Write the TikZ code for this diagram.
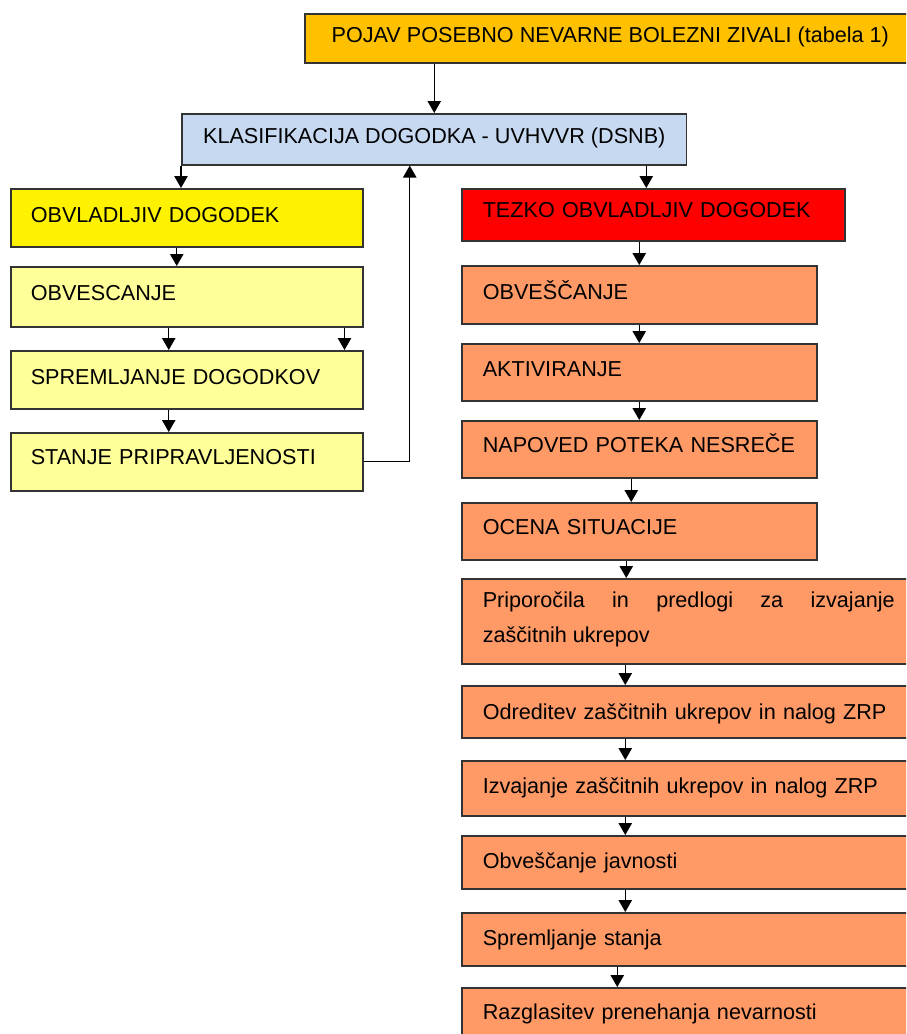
\documentclass[tikz,border=0pt]{standalone}
\usepackage{fontspec}
\setmainfont{Liberation Sans}
\usetikzlibrary{arrows.meta,calc}

\begin{document}
\begin{tikzpicture}[
    x=0.02cm, y=-0.02cm,
    font=\fontsize{12.3}{19.8}\selectfont,
    box/.style={draw=black!80,line width=0.9pt,anchor=north west,
        inner ysep=0pt,minimum height=0pt},
    topbox/.style={box,inner xsep=0pt,text height=0.58cm,text depth=0.4cm},
    lbox/.style={box,fill=lyellow,text width=6.24cm,inner xsep=0.4cm,
        align=left,text height=0.68cm,text depth=0.48cm},
    rbox/.style={box,fill=salmon,text width=6.26cm,inner xsep=0.42cm,
        align=left,text height=0.66cm,text depth=0.48cm},
    wide/.style={text width=8.24cm},
    arr/.style={-{Triangle[length=6.8pt,width=7.6pt]},line width=0.6pt}
]
\definecolor{amber}{HTML}{FFC000}
\definecolor{lblue}{HTML}{C6D9F1}
\definecolor{lyellow}{HTML}{FFFF99}
\definecolor{salmon}{HTML}{FF9966}
\useasboundingbox (0,0) rectangle (906,1034);
\clip (0,0) rectangle (906,1034);

% top of the chart
\node[topbox,fill=amber,minimum width=12.22cm] (pojav) at (304,13)
    {POJAV POSEBNO NEVARNE BOLEZNI ZIVALI (tabela 1)};
\node[topbox,fill=lblue,minimum width=10.1cm,text height=0.6cm,text depth=0.42cm]
    (klas) at (181,113) {KLASIFIKACIJA DOGODKA - UVHVVR (DSNB)};

% left branch
\node[lbox,fill=yellow] (obvl) at (10,188) {OBVLADLJIV DOGODEK};
\node[lbox,text depth=0.52cm] (obvesc) at (10,266) {OBVESCANJE};
\node[lbox] (spreml) at (10,350) {SPREMLJANJE DOGODKOV};
\node[lbox,text height=0.64cm,text depth=0.52cm] (stanje) at (10,432)
    {STANJE PRIPRAVLJENOSTI};

% right branch
\node[rbox,fill=red,text width=6.82cm,text height=0.58cm,text depth=0.46cm]
    (tezko) at (461,188) {TEZKO OBVLADLJIV DOGODEK};
\node[rbox,text height=0.68cm] (robv) at (461,265) {OBVEŠČANJE};
\node[rbox] (akt) at (461,343) {AKTIVIRANJE};
\node[rbox,text height=0.64cm,text depth=0.5cm] (nap) at (461,420)
    {NAPOVED POTEKA NESREČE};
\node[rbox,text height=0.64cm,text depth=0.5cm] (ocena) at (461,502)
    {OCENA SITUACIJE};
\node[rbox,wide,align=justify,text height=0.58cm,text depth=1.12cm] (prip)
    at (461,578) {Priporočila in predlogi za izvajanje\linebreak zaščitnih ukrepov};
\node[rbox,wide,text height=0.68cm,text depth=0.36cm] (odr) at (461,685)
    {Odreditev zaščitnih ukrepov in nalog ZRP};
\node[rbox,wide,text depth=0.44cm] (izv) at (461,760)
    {Izvajanje zaščitnih ukrepov in nalog ZRP};
\node[rbox,wide,text depth=0.4cm] (obvj) at (461,835) {Obveščanje javnosti};
\node[rbox,wide,text depth=0.4cm] (sprj) at (461,912) {Spremljanje stanja};
\node[rbox,wide,text height=0.64cm,text depth=0.7cm] (razgl) at (461,987)
    {Razglasitev prenehanja nevarnosti};

% connectors
\draw[arr] (klas.north |- pojav.south) -- (klas.north);
\draw[arr] (klas.south west) -- (klas.south west |- obvl.north);
\draw[arr] ($(klas.south -| tezko.north)+(-7,0)$) -- ($(tezko.north)+(-7,0)$);
\draw[arr] ($(obvl.south)+(-10,0)$) -- ($(obvesc.north)+(-10,0)$);
\draw[arr] ($(obvesc.south)+(-18,0)$) -- ($(spreml.north)+(-18,0)$);
\draw[arr] ($(obvesc.south east)+(-19,0)$) -- ($(spreml.north east)+(-19,0)$);
\draw[arr] ($(spreml.south)+(-18,0)$) -- ($(stanje.north)+(-18,0)$);
\draw[arr] (stanje.east) -| ($(klas.south)+(-24.5,0)$);
\draw[arr] (tezko.south -| robv.north) -- (robv.north);
\foreach \a/\b/\s in {robv/akt/0,akt/nap/0,nap/ocena/-8,ocena/prip/-13,
        prip/odr/-14,odr/izv/-14,izv/obvj/-14,obvj/sprj/-14,sprj/razgl/-22}
    \draw[arr] ($(robv.south |- \a.south)+(\s,0)$) -- ($(robv.south |- \b.north)+(\s,0)$);
\end{tikzpicture}
\end{document}
